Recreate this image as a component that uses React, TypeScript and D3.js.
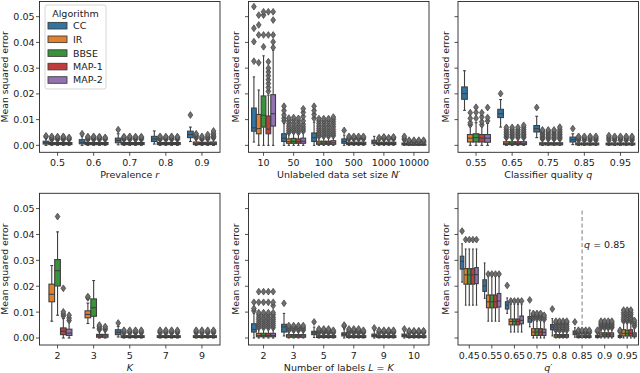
import React from 'react';
import * as d3 from 'd3';

type Box = [number, number, number, number, number] | null; // [low whisker, q1, median, q3, high whisker]

const algorithms = ['CC', 'IR', 'BBSE', 'MAP-1', 'MAP-2'];
const palette = ['#3274a1', '#e1812c', '#3a923a', '#c03d3e', '#9372b2'];
const yTicks = [0, 0.01, 0.02, 0.03, 0.04, 0.05];
const yTickLabels = ['0.00', '0.01', '0.02', '0.03', '0.04', '0.05'];

// --- Prevalence r ---
const prevalenceCats = ['0.5', '0.6', '0.7', '0.8', '0.9'];
const prevalenceStats: Box[][] = [
  [[0, 0.0005, 0.001, 0.0016, 0.003], [0, 0.0003, 0.0007, 0.0011, 0.002], [0, 0.0003, 0.0007, 0.0011, 0.002], [0, 0.0003, 0.0007, 0.0011, 0.002], [0, 0.0003, 0.0007, 0.0011, 0.002]],
  [[0, 0.0006, 0.0012, 0.0022, 0.0036], [0, 0.0003, 0.0007, 0.0011, 0.002], [0, 0.0003, 0.0007, 0.0011, 0.002], [0, 0.0003, 0.0007, 0.0011, 0.002], [0, 0.0003, 0.0007, 0.0011, 0.002]],
  [[0.0002, 0.001, 0.0019, 0.0028, 0.0045], [0, 0.0003, 0.0007, 0.0011, 0.002], [0, 0.0003, 0.0007, 0.0011, 0.002], [0, 0.0003, 0.0007, 0.0011, 0.002], [0, 0.0003, 0.0007, 0.0011, 0.002]],
  [[0.0005, 0.0015, 0.0025, 0.0035, 0.0056], [0, 0.0003, 0.0007, 0.0011, 0.002], [0, 0.0003, 0.0007, 0.0011, 0.002], [0, 0.0003, 0.0007, 0.0011, 0.002], [0, 0.0003, 0.0007, 0.0011, 0.002]],
  [[0.0015, 0.003, 0.0042, 0.0055, 0.0071], [0, 0.0003, 0.0008, 0.0013, 0.0025], [0, 0.0003, 0.0007, 0.0011, 0.002], [0, 0.0003, 0.0007, 0.0012, 0.0022], [0, 0.0003, 0.0008, 0.0013, 0.0025]],
];
const prevalenceOutliers: number[][][] = [
  [[0.0033, 0.0037], [0.0023, 0.0027, 0.0031, 0.0035], [0.0023, 0.0027, 0.0031, 0.0034], [0.0023, 0.0027, 0.0031, 0.0035], [0.0023, 0.0027, 0.0031]],
  [[0.0045], [0.0023, 0.0027, 0.0031, 0.0034], [0.0023, 0.0027, 0.0031, 0.0035], [0.0023, 0.0027, 0.0031, 0.0034], [0.0023, 0.0027, 0.0031]],
  [[0.0061], [0.0023, 0.0027, 0.0031, 0.0034], [0.0023, 0.0027, 0.0031, 0.0035], [0.0023, 0.0027, 0.0031, 0.0034], [0.0023, 0.0027, 0.0031, 0.0034]],
  [[], [0.0023, 0.0027, 0.0031, 0.0035], [0.0023, 0.0027, 0.0031, 0.0034], [0.0023, 0.0027, 0.0031, 0.0035], [0.0023, 0.0027, 0.0031, 0.0034]],
  [[0.0118], [0.0029, 0.0034, 0.0039, 0.0045], [0.0023, 0.0027, 0.0031, 0.0035], [0.0025, 0.003, 0.0035, 0.0042], [0.0029, 0.0034, 0.004, 0.0047, 0.0056]],
];

// --- Unlabeled data set size N' ---
const sizeCats = ['10', '50', '100', '500', '1000', '10000'];
const sizeStats: Box[][] = [
  [[0.0013, 0.0055, 0.0068, 0.0145, 0.0266], [0, 0.0045, 0.0065, 0.012, 0.0215], [0, 0.0071, 0.0117, 0.0192, 0.0348], [0, 0.0045, 0.0063, 0.0114, 0.0195], [0, 0.0075, 0.0123, 0.0197, 0.037]],
  [[0, 0.0015, 0.0028, 0.0045, 0.0085], [0, 0.0008, 0.0014, 0.0025, 0.0045], [0, 0.0008, 0.0015, 0.0027, 0.0048], [0, 0.0008, 0.0014, 0.0025, 0.0045], [0, 0.0008, 0.0016, 0.0028, 0.005]],
  [[0, 0.0015, 0.003, 0.0048, 0.009], [0, 0.0004, 0.0009, 0.0016, 0.0032], [0, 0.0004, 0.0009, 0.0016, 0.0032], [0, 0.0004, 0.0009, 0.0016, 0.0032], [0, 0.0004, 0.001, 0.0018, 0.0034]],
  [[0, 0.0008, 0.0015, 0.0025, 0.004], [0, 0.0003, 0.0007, 0.0012, 0.0022], [0, 0.0003, 0.0007, 0.0012, 0.0022], [0, 0.0003, 0.0007, 0.0012, 0.0022], [0, 0.0003, 0.0007, 0.0012, 0.0022]],
  [[0, 0.0006, 0.0012, 0.002, 0.0035], [0, 0.0003, 0.0007, 0.0012, 0.0022], [0, 0.0003, 0.0007, 0.0012, 0.0022], [0, 0.0003, 0.0007, 0.0012, 0.0022], [0, 0.0003, 0.0007, 0.0012, 0.0022]],
  [[0, 0.0002, 0.0005, 0.0009, 0.0016], [0, 0.0001, 0.0003, 0.0005, 0.001], [0, 0.0001, 0.0003, 0.0005, 0.001], [0, 0.0001, 0.0003, 0.0005, 0.001], [0, 0.0001, 0.0003, 0.0005, 0.001]],
];
const sizeOutliers: number[][][] = [
  [[0.0327, 0.0403, 0.0455, 0.0539], [0.0321, 0.0429, 0.0468, 0.0506], [0.0383, 0.0429, 0.0506, 0.0519], [0.021, 0.0225, 0.024, 0.0255, 0.027, 0.0285, 0.03, 0.0325, 0.0429, 0.0519], [0.038, 0.0402, 0.0429, 0.0487, 0.0519]],
  [[0.0095, 0.0105, 0.0118, 0.0135, 0.0152], [0.005, 0.0058, 0.0066, 0.0075, 0.0085, 0.0096, 0.0106], [0.0053, 0.006, 0.0068, 0.0077, 0.0087, 0.0098, 0.0108], [0.005, 0.0058, 0.0066, 0.0075, 0.0085, 0.0096, 0.0105], [0.0055, 0.0063, 0.0072, 0.0082, 0.0095, 0.0112, 0.0128, 0.0142]],
  [[0.0105, 0.012, 0.0135, 0.0152], [0.0035, 0.0042, 0.005, 0.0058, 0.0066, 0.0075, 0.0085, 0.0095, 0.0104], [0.0035, 0.0042, 0.005, 0.0058, 0.0066, 0.0075, 0.0085, 0.0095, 0.0104], [0.0035, 0.0042, 0.005, 0.0058, 0.0066, 0.0075, 0.0085, 0.0095, 0.0104], [0.0037, 0.0045, 0.0053, 0.0062, 0.0072, 0.0082, 0.0092, 0.0101, 0.011]],
  [[0.0058], [0.0025, 0.003, 0.0035], [0.0025, 0.003, 0.0035], [0.0025, 0.003, 0.0035], [0.0025, 0.003, 0.0035]],
  [[], [0.0025, 0.003], [0.0025, 0.003, 0.0033], [0.0025, 0.003], [0.0025, 0.003, 0.0033]],
  [[0.0022, 0.0028, 0.0035], [0.0012, 0.0016, 0.002], [0.0012, 0.0016, 0.002], [0.0012, 0.0016, 0.002], [0.0012, 0.0016, 0.002]],
];

// --- Classifier quality q ---
const qualityCats = ['0.55', '0.65', '0.75', '0.85', '0.95'];
const qualityStats: Box[][] = [
  [[0.0136, 0.0179, 0.0201, 0.0227, 0.029], [0, 0.0013, 0.0028, 0.0042, 0.0075], [0, 0.0013, 0.003, 0.0045, 0.0088], [0, 0.0013, 0.0028, 0.0042, 0.0075], [0, 0.0012, 0.0028, 0.0042, 0.0085]],
  [[0.0071, 0.0108, 0.0123, 0.014, 0.0178], [0, 0.0003, 0.0008, 0.0014, 0.0028], [0, 0.0003, 0.0008, 0.0014, 0.0028], [0, 0.0003, 0.0008, 0.0014, 0.0028], [0, 0.0003, 0.0008, 0.0014, 0.0028]],
  [[0.003, 0.0052, 0.0065, 0.0077, 0.0113], [0, 0.0002, 0.0006, 0.001, 0.002], [0, 0.0002, 0.0006, 0.001, 0.002], [0, 0.0002, 0.0006, 0.001, 0.002], [0, 0.0002, 0.0006, 0.001, 0.002]],
  [[0.0003, 0.0013, 0.0022, 0.0032, 0.0045], [0, 0.0002, 0.0005, 0.0009, 0.0016], [0, 0.0002, 0.0005, 0.0009, 0.0016], [0, 0.0002, 0.0005, 0.0009, 0.0016], [0, 0.0002, 0.0005, 0.0009, 0.0016]],
  [[0, 0.0002, 0.0005, 0.0009, 0.0016], [0, 0.0002, 0.0005, 0.0009, 0.0016], [0, 0.0002, 0.0005, 0.0009, 0.0016], [0, 0.0002, 0.0005, 0.0009, 0.0016], [0, 0.0002, 0.0005, 0.0009, 0.0016]],
];
const qualityOutliers: number[][][] = [
  [[], [0.008, 0.0088, 0.0105, 0.0127], [0.0105, 0.0128, 0.0148], [0.008, 0.0092, 0.011, 0.0127], [0.0095, 0.0108, 0.0147]],
  [[0.0201], [0.003, 0.0036, 0.0042, 0.0048, 0.0055, 0.0062, 0.007], [0.003, 0.0036, 0.0042, 0.0048, 0.0055, 0.0062, 0.007], [0.003, 0.0036, 0.0042, 0.0048, 0.0055, 0.0062, 0.007], [0.003, 0.0036, 0.0042, 0.0048, 0.0055, 0.0062, 0.007, 0.0078]],
  [[0.0147], [0.0025, 0.003, 0.0036, 0.0042, 0.0048, 0.0055, 0.006], [0.0025, 0.003, 0.0036, 0.0042, 0.0048, 0.0055, 0.006], [0.0025, 0.003, 0.0036, 0.0042, 0.0048, 0.0055, 0.006], [0.0025, 0.003, 0.0036, 0.0042, 0.0048, 0.0055, 0.0062, 0.0071]],
  [[0.0065], [0.002, 0.0025, 0.003, 0.0035], [0.002, 0.0025, 0.003, 0.0035], [0.002, 0.0025, 0.003, 0.0035], [0.002, 0.0025, 0.003, 0.0035]],
  [[0.002, 0.0026, 0.0032, 0.0038], [0.002, 0.0025, 0.003, 0.0035], [0.002, 0.0025, 0.003, 0.0035], [0.002, 0.0025, 0.003, 0.0035], [0.002, 0.0025, 0.003, 0.0035]],
];

// --- K ---
const kCats = ['2', '3', '5', '7', '9'];
const kStats: Box[][] = [
  [null, [0.0065, 0.014, 0.0169, 0.0208, 0.028], [0.0088, 0.0201, 0.026, 0.0303, 0.041], [0, 0.0013, 0.0026, 0.0039, 0.0075], [0, 0.001, 0.0019, 0.0034, 0.0062]],
  [null, [0.0056, 0.0078, 0.0091, 0.0105, 0.0135], [0.0039, 0.0084, 0.0117, 0.0151, 0.0222], [0, 0.0003, 0.0008, 0.0014, 0.0028], [0, 0.0003, 0.0008, 0.0014, 0.0028]],
  [[0.0004, 0.0013, 0.0022, 0.0032, 0.0045], [0, 0.0002, 0.0005, 0.0009, 0.0016], [0, 0.0002, 0.0005, 0.0009, 0.0016], [0, 0.0002, 0.0005, 0.0009, 0.0016], [0, 0.0002, 0.0005, 0.0009, 0.0016]],
  [null, [0, 0.0002, 0.0005, 0.0009, 0.0016], [0, 0.0002, 0.0005, 0.0009, 0.0016], [0, 0.0002, 0.0005, 0.0009, 0.0016], [0, 0.0002, 0.0005, 0.0009, 0.0016]],
  [null, [0, 0.0002, 0.0005, 0.0009, 0.0016], [0, 0.0002, 0.0005, 0.0009, 0.0016], [0, 0.0002, 0.0005, 0.0009, 0.0016], [0, 0.0002, 0.0005, 0.0009, 0.0016]],
];
const kOutliers: number[][][] = [
  [[], [], [0.0469], [0.0085, 0.0093, 0.0101, 0.0192], [0.0068, 0.0077, 0.0088]],
  [[], [0.0155, 0.016], [], [0.0032, 0.0038, 0.0044, 0.005], [0.0032, 0.0038, 0.0044]],
  [[0.0058], [0.002, 0.0025, 0.003], [0.002, 0.0025, 0.003], [0.002, 0.0025, 0.003], [0.002, 0.0025, 0.003]],
  [[], [0.002, 0.0025, 0.003], [0.002, 0.0025, 0.003], [0.002, 0.0025, 0.003], [0.002, 0.0025, 0.003]],
  [[], [0.002, 0.0025, 0.003], [0.002, 0.0025, 0.003], [0.002, 0.0025, 0.003], [0.002, 0.0025, 0.003]],
];

// --- Number of labels L = K ---
const labelCats = ['2', '3', '5', '7', '9', '10'];
const labelStats: Box[][] = [
  [[0, 0.0023, 0.0033, 0.0055, 0.0095], [0, 0.0005, 0.001, 0.0018, 0.0035], [0, 0.0005, 0.001, 0.0018, 0.0035], [0, 0.0005, 0.001, 0.0018, 0.0035], [0, 0.0005, 0.001, 0.0018, 0.0035]],
  [[0.0008, 0.0023, 0.0043, 0.0053, 0.0095], [0, 0.0003, 0.0008, 0.0013, 0.0025], [0, 0.0003, 0.0008, 0.0013, 0.0025], [0, 0.0003, 0.0008, 0.0013, 0.0025], [0, 0.0003, 0.0008, 0.0013, 0.0025]],
  [[0.0002, 0.0013, 0.002, 0.0026, 0.0042], [0, 0.0002, 0.0005, 0.0009, 0.0016], [0, 0.0002, 0.0005, 0.0009, 0.0016], [0, 0.0002, 0.0005, 0.0009, 0.0016], [0, 0.0002, 0.0005, 0.0009, 0.0016]],
  [[0, 0.0008, 0.0014, 0.002, 0.0035], [0, 0.0002, 0.0005, 0.0009, 0.0016], [0, 0.0002, 0.0005, 0.0009, 0.0016], [0, 0.0002, 0.0005, 0.0009, 0.0016], [0, 0.0002, 0.0005, 0.0009, 0.0016]],
  [[0, 0.0005, 0.001, 0.0015, 0.003], [0, 0.0002, 0.0005, 0.0009, 0.0016], [0, 0.0002, 0.0005, 0.0009, 0.0016], [0, 0.0002, 0.0005, 0.0009, 0.0016], [0, 0.0002, 0.0005, 0.0009, 0.0016]],
  [[0, 0.0005, 0.001, 0.0015, 0.0028], [0, 0.0002, 0.0005, 0.0009, 0.0016], [0, 0.0002, 0.0005, 0.0009, 0.0016], [0, 0.0002, 0.0005, 0.0009, 0.0016], [0, 0.0002, 0.0005, 0.0009, 0.0016]],
];
const labelOutliers: number[][][] = [
  [[0.0105, 0.0114, 0.0138], [0.004, 0.0048, 0.0056, 0.0064, 0.0072, 0.008, 0.009, 0.0098, 0.0138, 0.0179], [0.004, 0.0048, 0.0056, 0.0064, 0.0072, 0.008, 0.009, 0.0098, 0.0138, 0.0179], [0.004, 0.0048, 0.0056, 0.0064, 0.0072, 0.008, 0.009, 0.0098, 0.0138, 0.0179], [0.004, 0.0048, 0.0056, 0.0064, 0.0072, 0.008, 0.009, 0.0098, 0.0125, 0.0138, 0.0179]],
  [[0.0134], [0.003, 0.0036, 0.0042, 0.0048], [0.003, 0.0036, 0.0042, 0.0048], [0.003, 0.0036, 0.0042, 0.0048], [0.003, 0.0036, 0.0042, 0.0048]],
  [[0.0062], [0.002, 0.0025, 0.003, 0.0035], [0.002, 0.0025, 0.003, 0.0035], [0.002, 0.0025, 0.003, 0.0035], [0.002, 0.0025, 0.003]],
  [[0.0046, 0.005], [0.002, 0.0025, 0.003, 0.0035], [0.002, 0.0025, 0.003, 0.0035], [0.002, 0.0025, 0.003, 0.0035], [0.002, 0.0025, 0.003]],
  [[0.0039], [0.002, 0.0025, 0.003], [0.002, 0.0025, 0.003], [0.002, 0.0025, 0.003], [0.002, 0.0025, 0.003]],
  [[0.0035], [0.002, 0.0025, 0.0028], [0.002, 0.0025, 0.0028], [0.002, 0.0025, 0.0028], [0.002, 0.0025, 0.0028]],
];

// --- q' ---
const qPrimeCats = ['0.45', '0.55', '0.65', '0.75', '0.8', '0.85', '0.9', '0.95'];
const qPrimeStats: Box[][] = [
  [[0.0216, 0.0266, 0.0296, 0.0316, 0.0364], [0.0127, 0.0208, 0.0244, 0.0268, 0.0344], [0.0127, 0.0208, 0.0244, 0.0268, 0.0344], [0.0127, 0.0208, 0.0244, 0.0268, 0.0344], [0.0127, 0.021, 0.0245, 0.0272, 0.0344]],
  [[0.0153, 0.018, 0.0201, 0.0225, 0.029], [0.0065, 0.0117, 0.014, 0.0166, 0.0238], [0.0065, 0.0117, 0.014, 0.0166, 0.0238], [0.0065, 0.0117, 0.014, 0.0166, 0.0238], [0.0065, 0.012, 0.0143, 0.0172, 0.0238]],
  [[0.0095, 0.0112, 0.0127, 0.014, 0.0155], [0.0023, 0.0051, 0.0064, 0.0073, 0.013], [0.0023, 0.0051, 0.0064, 0.0073, 0.013], [0.0023, 0.0051, 0.0064, 0.0073, 0.013], [0.0023, 0.0055, 0.0068, 0.0085, 0.013]],
  [[0.0043, 0.0061, 0.0075, 0.0083, 0.0108], [0, 0.001, 0.0023, 0.0036, 0.0068], [0, 0.001, 0.0023, 0.0036, 0.0068], [0, 0.001, 0.0023, 0.0036, 0.0068], [0, 0.001, 0.0022, 0.0034, 0.0065]],
  [[0.0008, 0.0032, 0.0043, 0.0052, 0.0075], [0, 0.0003, 0.0008, 0.0013, 0.0025], [0, 0.0003, 0.0008, 0.0013, 0.0025], [0, 0.0003, 0.0008, 0.0013, 0.0025], [0, 0.0003, 0.0008, 0.0013, 0.0025]],
  [[0.0003, 0.0013, 0.002, 0.0027, 0.004], [0, 0.0002, 0.0005, 0.0009, 0.0016], [0, 0.0002, 0.0005, 0.0009, 0.0016], [0, 0.0002, 0.0005, 0.0009, 0.0016], [0, 0.0002, 0.0005, 0.0009, 0.0016]],
  [[0, 0.0002, 0.0006, 0.001, 0.002], [0, 0.0005, 0.0012, 0.002, 0.0035], [0, 0.0005, 0.0012, 0.002, 0.0035], [0, 0.0005, 0.0012, 0.002, 0.0035], [0, 0.0005, 0.0012, 0.002, 0.0035]],
  [[0, 0.0002, 0.0006, 0.001, 0.002], [0, 0.0008, 0.0018, 0.0032, 0.006], [0, 0.0008, 0.0018, 0.003, 0.0058], [0, 0.0008, 0.0018, 0.0032, 0.006], [0, 0.0005, 0.0012, 0.002, 0.004]],
];
const qPrimeOutliers: number[][][] = [
  [[0.0413], [0.038], [0.038], [0.038], [0.038]],
  [[], [0.0247], [0.0247], [0.0247], [0.0247]],
  [[0.0203], [0.0143], [0.0143], [0.0143], [0.0143]],
  [[0.0147], [0.0075, 0.0083, 0.009, 0.0095], [0.0075, 0.0083, 0.009, 0.0095], [0.0075, 0.0083, 0.009, 0.0095], [0.0072, 0.008, 0.0088]],
  [[0.0112], [0.003, 0.0037, 0.0044, 0.0052, 0.006, 0.0065], [0.003, 0.0037, 0.0044, 0.0052, 0.006, 0.0065], [0.003, 0.0037, 0.0044, 0.0052, 0.006, 0.0065], [0.003, 0.0037, 0.0044, 0.0052, 0.006, 0.0065]],
  [[0.0062], [0.002, 0.0025, 0.003], [0.002, 0.0025, 0.003], [0.002, 0.0025, 0.003], [0.002, 0.0025, 0.003]],
  [[0.0025, 0.003], [0.004, 0.0046, 0.0052, 0.0058, 0.0065], [0.004, 0.0046, 0.0052, 0.0058, 0.0065], [0.004, 0.0046, 0.0052, 0.0058, 0.0065], [0.004, 0.0046, 0.0052, 0.0058, 0.0065]],
  [[0.0025, 0.003], [0.0065, 0.0072, 0.008, 0.009, 0.0098, 0.0108], [0.0065, 0.0072, 0.008, 0.009, 0.0098, 0.0108], [0.0065, 0.0072, 0.008, 0.009, 0.0098, 0.0108], [0.0045, 0.0052, 0.006, 0.0068]],
];

const qThreshold = '0.85';

const yDomain: [number, number] = [-0.0027, 0.0559];
const FONT = 'DejaVu Sans, sans-serif';
const EDGE = '#3f3f3f';
const TEXT = '#1a1a1a';
const LW = 1.1;

const diamond = 'M0,-3.4L2.4,0L0,3.4L-2.4,0Z';

function Panel({ left, top, bottom, width, cats, stats, outliers, xlabel, showYLabels, yLabelX, children }: any) {
  const x = d3.scaleBand<string>().domain(cats).range([left, left + width]).padding(0);
  const bw = x.bandwidth();
  const hue = d3.scaleBand<string>().domain(algorithms).range([-0.4 * bw, 0.4 * bw]);
  const boxW = hue.bandwidth() * 0.98;
  const y = d3.scaleLinear().domain(yDomain).range([bottom, top]);
  const yMid = (top + bottom) / 2;

  return (
    <g>
      {cats.map((c: string, ci: number) =>
        algorithms.map((a, ai) => {
          const s: Box = stats[ci][ai];
          if (!s) return null;
          const cx = x(c)! + bw / 2 + hue(a)! + hue.bandwidth() / 2;
          const [lo, q1, med, q3, hi] = s;
          const capW = boxW / 2;
          return (
            <g key={`${c}-${a}`}>
              <line x1={cx} x2={cx} y1={y(q1)} y2={y(lo)} stroke={EDGE} strokeWidth={LW} />
              <line x1={cx} x2={cx} y1={y(q3)} y2={y(hi)} stroke={EDGE} strokeWidth={LW} />
              <line x1={cx - capW / 2} x2={cx + capW / 2} y1={y(lo)} y2={y(lo)} stroke={EDGE} strokeWidth={LW} />
              <line x1={cx - capW / 2} x2={cx + capW / 2} y1={y(hi)} y2={y(hi)} stroke={EDGE} strokeWidth={LW} />
              <rect x={cx - boxW / 2} y={y(q3)} width={boxW} height={Math.max(0.5, y(q1) - y(q3))} fill={palette[ai]} stroke={EDGE} strokeWidth={LW} />
              <line x1={cx - boxW / 2} x2={cx + boxW / 2} y1={y(med)} y2={y(med)} stroke={EDGE} strokeWidth={LW} />
              {outliers[ci][ai].map((v: number, k: number) => (
                <path key={k} d={diamond} transform={`translate(${cx},${y(v)})`} fill="#6e6e6e" stroke={EDGE} strokeWidth={0.7} />
              ))}
            </g>
          );
        })
      )}
      {children && children(x, y, bw)}
      <rect x={left} y={top} width={width} height={bottom - top} fill="none" stroke="#262626" strokeWidth={0.9} />
      {yTicks.map((t, i) => (
        <g key={t}>
          <line x1={left - 3.5} x2={left} y1={y(t)} y2={y(t)} stroke="#262626" strokeWidth={0.8} />
          {showYLabels && (
            <text x={left - 5} y={y(t) + 3.4} textAnchor="end" fontSize={9.5} fontFamily={FONT} fill={TEXT}>{yTickLabels[i]}</text>
          )}
        </g>
      ))}
      {cats.map((c: string) => (
        <g key={c}>
          <line x1={x(c)! + bw / 2} x2={x(c)! + bw / 2} y1={bottom} y2={bottom + 3.5} stroke="#262626" strokeWidth={0.8} />
          <text x={x(c)! + bw / 2} y={bottom + 13.8} textAnchor="middle" fontSize={9.5} fontFamily={FONT} fill={TEXT}>{c}</text>
        </g>
      ))}
      <text x={left + width / 2} y={bottom + 25.5} textAnchor="middle" fontSize={9.5} fontFamily={FONT} fill={TEXT}>{xlabel}</text>
      <text x={yLabelX} y={yMid} transform={`rotate(-90, ${yLabelX}, ${yMid})`} textAnchor="middle" fontSize={9.3} fontFamily={FONT} fill={TEXT}>Mean squared error</text>
    </g>
  );
}

function Legend() {
  const ys = [25.7, 39.3, 53.1, 66.6, 80];
  return (
    <g>
      <rect x={45} y={5} width={61} height={84} rx={2} fill="#fff" fillOpacity={0.8} stroke="#cccccc" strokeWidth={0.8} />
      <text x={75.5} y={16.6} textAnchor="middle" fontSize={9.5} fontFamily={FONT} fill={TEXT}>Algorithm</text>
      {algorithms.map((a, i) => (
        <g key={a}>
          <rect x={48} y={ys[i] - 3.3} width={19} height={6.6} fill={palette[i]} stroke={EDGE} strokeWidth={0.9} />
          <text x={73} y={ys[i] + 3.4} fontSize={9.5} fontFamily={FONT} fill={TEXT}>{a}</text>
        </g>
      ))}
    </g>
  );
}

export default function App() {
  const cols = [39.5, 248.5, 458];
  const W = 180.5;
  const rows = [[1.5, 152.3], [193.3, 345]];
  const yl = [8, 239.5, 449.2];
  return (
    <svg width={640} height={373} style={{ position: 'absolute', left: 0, top: 0, background: '#fff' }}>
      <Panel left={cols[0]} top={rows[0][0]} bottom={rows[0][1]} width={W} cats={prevalenceCats} stats={prevalenceStats} outliers={prevalenceOutliers}
        xlabel={<>Prevalence <tspan fontStyle="italic">r</tspan></>} showYLabels yLabelX={yl[0]} />
      <Panel left={cols[1]} top={rows[0][0]} bottom={rows[0][1]} width={W} cats={sizeCats} stats={sizeStats} outliers={sizeOutliers}
        xlabel={<>Unlabeled data set size <tspan fontStyle="italic">N′</tspan></>} yLabelX={yl[1]} />
      <Panel left={cols[2]} top={rows[0][0]} bottom={rows[0][1]} width={W} cats={qualityCats} stats={qualityStats} outliers={qualityOutliers}
        xlabel={<>Classifier quality <tspan fontStyle="italic">q</tspan></>} yLabelX={yl[2]} />
      <Panel left={cols[0]} top={rows[1][0]} bottom={rows[1][1]} width={W} cats={kCats} stats={kStats} outliers={kOutliers}
        xlabel={<tspan fontStyle="italic">K</tspan>} showYLabels yLabelX={yl[0]} />
      <Panel left={cols[1]} top={rows[1][0]} bottom={rows[1][1]} width={W} cats={labelCats} stats={labelStats} outliers={labelOutliers}
        xlabel={<>Number of labels <tspan fontStyle="italic">L</tspan> = <tspan fontStyle="italic">K</tspan></>} yLabelX={yl[1]} />
      <Panel left={cols[2]} top={rows[1][0]} bottom={rows[1][1]} width={W} cats={qPrimeCats} stats={qPrimeStats} outliers={qPrimeOutliers}
        xlabel={<tspan fontStyle="italic">q′</tspan>} yLabelX={yl[2]}>
        {(x: any, y: any, bw: number) => {
          const lx = x(qThreshold) + bw / 2;
          return (
            <g>
              <line x1={lx} x2={lx} y1={y(0)} y2={y(0.05)} stroke="#7f7f7f" strokeWidth={1} strokeDasharray="4,2.5" />
              <text x={lx + 2} y={y(0.036) + 3.4} fontSize={9.5} fontFamily={FONT} fill={TEXT}>
                <tspan fontStyle="italic">q</tspan> = 0.85
              </text>
            </g>
          );
        }}
      </Panel>
      <Legend />
    </svg>
  );
}
